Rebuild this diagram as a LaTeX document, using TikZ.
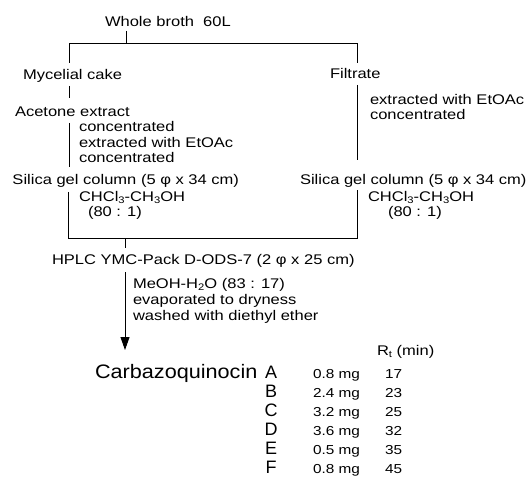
\documentclass[tikz,border=0pt]{standalone}
\usepackage{fontspec}
\setmainfont{Liberation Sans}
\usetikzlibrary{arrows.meta}
\newcommand{\sbs}[1]{\raisebox{-0.3ex}{\fontsize{9.5}{10}\selectfont #1}}
\newcommand{\sx}[1]{\scalebox{1.18}[1]{#1}}
\newcommand{\sxb}[1]{\scalebox{1.11}[1]{#1}}
\begin{document}
\begin{tikzpicture}[x=1pt,y=-1pt,
  every node/.style={inner sep=0pt, outer sep=0pt},
  lbl/.style={anchor=base west, font=\fontsize{14}{14}\selectfont},
  big/.style={anchor=base west, font=\fontsize{19.5}{20}\selectfont},
  letter/.style={anchor=base, font=\fontsize{18}{18}\selectfont},
  tbl/.style={anchor=base west, font=\fontsize{13}{13}\selectfont},
  ln/.style={line width=0.9pt, black},
  arr/.style={ln, -{Triangle[length=13pt,width=9pt]}}]
\useasboundingbox (0,0) rectangle (529,478);

% texts
\node[lbl] (broth) at (105,27) {\sx{Whole broth\ \ 60L}};
\node[lbl] (myc) at (23,80) {\sx{Mycelial cake}};
\node[lbl] (filt) at (330,79) {\sx{Filtrate}};
\node[lbl] (acet) at (15,117) {\sx{Acetone extract}};
\node[lbl] (l1) at (79,132) {\sx{concentrated}};
\node[lbl] (l2) at (79,147.5) {\sx{extracted with EtOAc}};
\node[lbl] (l3) at (79,163) {\sx{concentrated}};
\node[lbl] (r1) at (370,105) {\sx{extracted with EtOAc}};
\node[lbl] (r2) at (370,120) {\sx{concentrated}};
\node[lbl] (silL) at (12.5,185) {\sx{Silica gel column (5 φ x 34 cm)}};
\node[lbl] (silR) at (300,185) {\sx{Silica gel column (5 φ x 34 cm)}};
\node[lbl] (chL) at (79,201) {\sx{CHCl\sbs{3}-CH\sbs{3}OH}};
\node[lbl] (ratL) at (88,216) {\sx{(80 : 1)}};
\node[lbl] (chR) at (368,201) {\sx{CHCl\sbs{3}-CH\sbs{3}OH}};
\node[lbl] (ratR) at (388,216) {\sx{(80 : 1)}};
\node[lbl] (hplc) at (52,264) {\sx{HPLC YMC-Pack D-ODS-7 (2 φ x 25 cm)}};
\node[lbl] (m1) at (133,288) {\sx{MeOH-H\sbs{2}O (83 : 17)}};
\node[lbl] (m2) at (133,304) {\sx{evaporated to dryness}};
\node[lbl] (m3) at (133,320) {\sx{washed with diethyl ether}};
\node[lbl] (rt) at (377,355) {\sx{R\sbs{t} (min)}};
\node[big] (carb) at (95,378) {\sxb{Carbazoquinocin}};
\foreach \L/\m/\t [count=\i from 0] in {A/0.8/17,B/2.4/23,C/3.2/25,D/3.6/32,E/0.5/35,F/0.8/45}{
  \node[letter] (let\L) at (271,378+19*\i) {\L};
  \node[tbl] (amt\L) at (313,378+19*\i) {\sx{\m\ mg}};
  \node[tbl] (rt\L) at (385,378+19*\i) {\sx{\t}};
}

% connector coordinates
\coordinate (bT) at (126,31);
\coordinate (bB) at (126,43);
\coordinate (tl) at (69,43);
\coordinate (tr) at (357,43);
\coordinate (mycT) at (69,63);
\coordinate (filT) at (357,63);
\coordinate (mycB) at (69,86);
\coordinate (acT) at (69,98);
\coordinate (acB) at (69,123);
\coordinate (silLT) at (69,167);
\coordinate (filB) at (357,85);
\coordinate (silRT) at (357,160);
\coordinate (silLB) at (68,192);
\coordinate (bl) at (68,238);
\coordinate (br) at (357,238);
\coordinate (silRB) at (357,190);
\coordinate (mT) at (125,238);
\coordinate (hT) at (125,248);
\coordinate (hB) at (125,272);
\coordinate (cT) at (125,350);

\draw[ln] (bT) -- (bB);
\draw[ln] (mycT) -- (tl) -- (tr) -- (filT);
\draw[ln] (mycB) -- (acT);
\draw[ln] (acB) -- (silLT);
\draw[ln] (filB) -- (silRT);
\draw[ln] (silLB) -- (bl) -- (br) -- (silRB);
\draw[ln] (mT) -- (hT);
\draw[arr] (hB) -- (cT);
\end{tikzpicture}
\end{document}
